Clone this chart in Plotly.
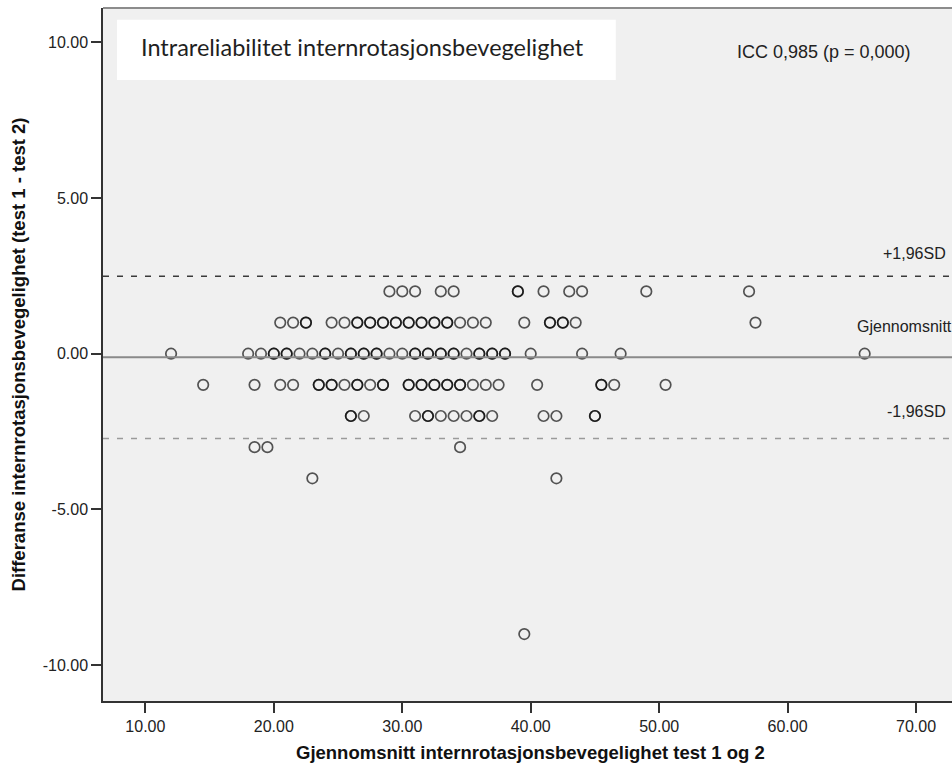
import plotly.graph_objects as go

# Mean of test 1 and test 2, grouped by the difference (test 1 - test 2).
# Repeated values are observations that sit on top of each other.
means_diff_plus2 = [29, 30, 31, 33, 34, 39, 39, 41, 43, 44, 49, 57]
means_diff_plus1 = [20.5, 21.5, 22.5, 22.5, 24.5, 25.5, 26.5, 26.5, 27.5, 27.5,
                    28.5, 28.5, 29.5, 29.5, 30.5, 30.5, 31.5, 31.5, 32.5, 32.5,
                    33.5, 33.5, 34.5, 35.5, 36.5, 39.5, 41.5, 41.5, 42.5, 42.5,
                    43.5, 57.5]
means_diff_zero = [12, 18, 19, 20, 20, 21, 21, 22, 23, 24, 24, 25, 26, 26, 27, 27,
                   28, 28, 29, 30, 31, 31, 32, 32, 33, 33, 34, 34, 35, 36, 36,
                   37, 37, 38, 38, 40, 44, 47, 66]
means_diff_minus1 = [14.5, 18.5, 20.5, 21.5, 23.5, 23.5, 24.5, 24.5, 25.5, 26.5,
                     26.5, 27.5, 28.5, 28.5, 30.5, 30.5, 31.5, 31.5, 32.5, 32.5,
                     33.5, 33.5, 34.5, 34.5, 35.5, 36.5, 37.5, 40.5, 45.5, 45.5,
                     46.5, 50.5]
means_diff_minus2 = [26, 26, 27, 31, 32, 32, 33, 34, 35, 36, 36, 37, 41, 42, 45, 45]
means_diff_minus3 = [18.5, 19.5, 34.5]
means_diff_minus4 = [23, 42]
means_diff_minus9 = [39.5]

difference_levels = [2, 1, 0, -1, -2, -3, -4, -9]

# Bland-Altman summary lines
mean_difference = -0.115
loa_upper = 2.49
loa_lower = -2.72

x_ticks = [10, 20, 30, 40, 50, 60, 70]
y_ticks = [-10, -5, 0, 5, 10]

groups = [means_diff_plus2, means_diff_plus1, means_diff_zero, means_diff_minus1,
          means_diff_minus2, means_diff_minus3, means_diff_minus4, means_diff_minus9]
xs, ys = [], []
for level, means in zip(difference_levels, groups):
    xs.extend(means)
    ys.extend([level] * len(means))

AXIS_FONT = "Liberation Sans, Arial, sans-serif"

fig = go.Figure()
fig.add_trace(go.Scatter(
    x=xs, y=ys, mode="markers",
    marker=dict(symbol="circle-open", size=10.5, color="rgba(0,0,0,0.66)",
                line=dict(width=1.7)),
    hoverinfo="x+y", showlegend=False,
))

shapes = [
    # mean difference and limits of agreement
    dict(type="line", xref="paper", x0=0, x1=1, yref="y",
         y0=mean_difference, y1=mean_difference,
         line=dict(color="#8a8a8a", width=2)),
    dict(type="line", xref="paper", x0=0, x1=1, yref="y",
         y0=loa_upper, y1=loa_upper,
         line=dict(color="#3a3a3a", width=1.5, dash="6px,8px")),
    dict(type="line", xref="paper", x0=0, x1=1, yref="y",
         y0=loa_lower, y1=loa_lower,
         line=dict(color="#9a9a9a", width=1.5, dash="6px,8px")),
    # top frame edge
    dict(type="line", xref="paper", x0=0, x1=1, yref="paper", y0=1, y1=1,
         line=dict(color="#8c8c8c", width=2)),
    # white title box
    dict(type="rect", xref="paper", yref="paper", x0=0.0165, x1=0.604,
         y0=0.896, y1=0.983, fillcolor="white", line=dict(width=0), layer="above"),
]

annotations = [
    dict(text="Intrareliabilitet internrotasjonsbevegelighet", xref="paper", yref="paper",
         x=0.0424, y=0.944, xanchor="left", yanchor="middle", showarrow=False,
         font=dict(family="Lato, Open Sans, sans-serif", size=23.5, color="#1f1f1f")),
    dict(text="ICC 0,985 (p = 0,000)", xref="paper", yref="paper",
         x=0.744, y=0.9365, xanchor="left", yanchor="middle", showarrow=False,
         font=dict(family=AXIS_FONT, size=18, color="#222")),
    dict(text="+1,96SD", xref="paper", yref="y", x=0.995, y=loa_upper,
         xanchor="right", yanchor="bottom", yshift=12, showarrow=False,
         font=dict(family=AXIS_FONT, size=16, color="#222")),
    dict(text="Gjennomsnitt", xref="paper", yref="y", x=0.886, y=mean_difference,
         xanchor="left", yanchor="bottom", yshift=20, showarrow=False,
         font=dict(family=AXIS_FONT, size=16, color="#222")),
    dict(text="-1,96SD", xref="paper", yref="y", x=0.995, y=loa_lower,
         xanchor="right", yanchor="bottom", yshift=16, showarrow=False,
         font=dict(family=AXIS_FONT, size=16, color="#222")),
    dict(text="<b>Differanse internrotasjonsbevegelighet (test 1 - test 2)</b>",
         xref="paper", yref="paper", x=-0.099, y=0.5, xanchor="center",
         yanchor="middle", textangle=-90, showarrow=False,
         font=dict(family=AXIS_FONT, size=18.5, color="#111")),
    dict(text="<b>Gjennomsnitt internrotasjonsbevegelighet test 1 og 2</b>",
         xref="paper", yref="paper", x=(530 - 103) / 849, y=-0.075,
         xanchor="center", yanchor="middle", showarrow=False,
         font=dict(family=AXIS_FONT, size=18.5, color="#111")),
]

fig.update_layout(
    width=952, height=771,
    margin=dict(l=103, r=0, t=8, b=70),
    paper_bgcolor="white", plot_bgcolor="#f0f0f0",
    shapes=shapes, annotations=annotations,
    xaxis=dict(range=[6.70, 72.8], tickvals=x_ticks,
               ticktext=[f"{v:.2f}" for v in x_ticks],
               showgrid=False, zeroline=False, showline=True,
               linecolor="#333", linewidth=1.5, mirror=False,
               ticks="outside", ticklen=10, tickwidth=1.5, tickcolor="#333",
               tickfont=dict(family=AXIS_FONT, size=16, color="#222")),
    yaxis=dict(range=[-11.15, 11.1], tickvals=y_ticks,
               ticktext=[f"{v:.2f}" for v in y_ticks],
               showgrid=False, zeroline=False, showline=True,
               linecolor="#333", linewidth=1.5,
               ticks="outside", ticklen=10, tickwidth=1.5, tickcolor="#333",
               tickfont=dict(family=AXIS_FONT, size=16, color="#222")),
)

fig.write_html("out.html")
